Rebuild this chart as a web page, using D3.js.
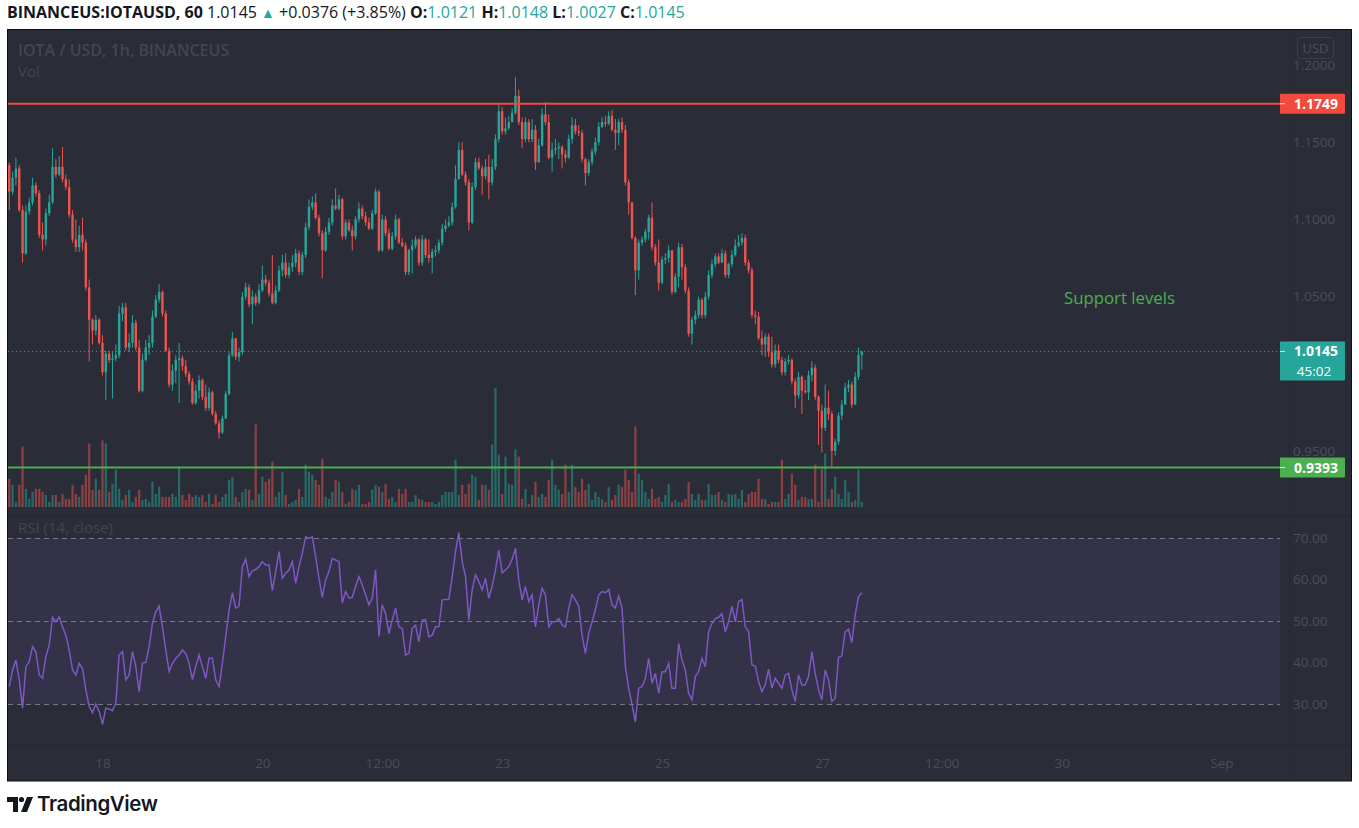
<!DOCTYPE html>
<html><head><meta charset="utf-8">
<script src="https://cdn.jsdelivr.net/npm/d3@7"></script>
<style>
body{margin:0;background:#fff;}
svg{display:block;}
text{font-family:"Open Sans",sans-serif;}
</style>
</head><body>
<svg id="c" width="1359" height="828"></svg>
<script>
// ---------------- DATA ----------------
const startTime = Date.UTC(2021, 7, 16, 20); // first hourly candle
const firstOpen = 1.135;
const closes = [
1.118,1.127,1.133,1.106,1.078,1.105,1.111,1.122,1.117,1.090,
1.087,1.104,1.111,1.134,1.129,1.134,1.126,1.121,1.103,1.087,
1.082,1.090,1.085,1.056,1.035,1.028,1.035,1.020,1.001,1.013,
1.009,1.010,1.012,1.039,1.043,1.017,1.020,1.033,1.017,0.989,
1.009,1.017,1.020,1.037,1.048,1.053,1.039,1.015,0.993,1.002,
1.009,1.010,1.005,1.000,0.995,0.981,0.989,0.996,0.985,0.978,
0.988,0.974,0.968,0.962,0.971,0.987,1.012,1.023,1.011,1.014,
1.050,1.056,1.045,1.050,1.046,1.054,1.061,1.059,1.052,1.046,
1.054,1.067,1.072,1.064,1.069,1.072,1.078,1.066,1.077,1.095,
1.108,1.111,1.101,1.091,1.080,1.092,1.098,1.109,1.107,1.113,
1.089,1.098,1.093,1.089,1.100,1.107,1.102,1.098,1.094,1.104,
1.118,1.080,1.100,1.091,1.081,1.089,1.100,1.085,1.083,1.066,
1.080,1.083,1.087,1.072,1.087,1.077,1.075,1.079,1.080,1.085,
1.094,1.096,1.098,1.108,1.126,1.145,1.129,1.124,1.098,1.121,
1.137,1.133,1.128,1.134,1.124,1.134,1.152,1.170,1.157,1.159,
1.163,1.169,1.180,1.163,1.152,1.163,1.152,1.158,1.137,1.148,
1.168,1.163,1.140,1.145,1.146,1.147,1.142,1.140,1.152,1.161,
1.157,1.156,1.139,1.130,1.137,1.144,1.150,1.160,1.163,1.162,
1.167,1.158,1.156,1.163,1.158,1.124,1.111,1.088,1.067,1.085,
1.087,1.092,1.101,1.082,1.072,1.059,1.074,1.075,1.080,1.053,
1.063,1.082,1.069,1.054,1.026,1.035,1.038,1.048,1.038,1.050,
1.064,1.071,1.076,1.072,1.078,1.064,1.071,1.077,1.083,1.085,
1.088,1.072,1.067,1.038,1.037,1.023,1.019,1.024,1.014,1.006,
1.015,1.009,1.001,1.008,1.009,0.995,0.986,0.998,0.989,0.988,
0.999,1.004,0.985,0.976,0.965,0.978,0.974,0.950,0.956,0.973,
0.980,0.991,0.993,0.980,0.998,1.0121,1.0145];
const highs = [
1.137,1.131,1.140,1.135,1.109,1.109,1.114,1.127,1.124,1.119,
1.098,1.107,1.116,1.146,1.139,1.141,1.147,1.129,1.126,1.106,
1.100,1.096,1.101,1.087,1.061,1.036,1.038,1.036,1.025,1.015,
1.015,1.014,1.019,1.044,1.046,1.046,1.026,1.038,1.035,1.022,
1.013,1.022,1.025,1.041,1.051,1.058,1.054,1.041,1.017,1.006,
1.012,1.020,1.012,1.009,1.002,0.997,0.993,0.999,0.997,0.993,
0.991,0.989,0.976,0.970,0.973,0.989,1.014,1.027,1.023,1.017,
1.053,1.059,1.058,1.054,1.052,1.058,1.070,1.064,1.061,1.077,
1.057,1.070,1.077,1.078,1.072,1.077,1.081,1.080,1.079,1.098,
1.113,1.115,1.117,1.103,1.093,1.095,1.101,1.113,1.120,1.116,
1.114,1.100,1.100,1.096,1.102,1.111,1.109,1.105,1.101,1.106,
1.120,1.119,1.103,1.102,1.094,1.092,1.103,1.101,1.088,1.085,
1.081,1.087,1.089,1.088,1.090,1.088,1.087,1.081,1.083,1.087,
1.097,1.100,1.102,1.111,1.135,1.150,1.150,1.131,1.126,1.124,
1.140,1.140,1.135,1.139,1.142,1.139,1.155,1.175,1.173,1.166,
1.167,1.172,1.192,1.184,1.166,1.166,1.165,1.165,1.161,1.152,
1.172,1.176,1.168,1.150,1.152,1.150,1.148,1.145,1.155,1.166,
1.165,1.161,1.158,1.140,1.139,1.146,1.153,1.163,1.166,1.167,
1.170,1.171,1.165,1.165,1.166,1.161,1.126,1.111,1.089,1.087,
1.089,1.094,1.103,1.111,1.084,1.087,1.076,1.078,1.083,1.080,
1.065,1.085,1.084,1.071,1.056,1.037,1.041,1.050,1.049,1.053,
1.067,1.074,1.078,1.078,1.081,1.080,1.072,1.080,1.087,1.090,
1.091,1.090,1.074,1.069,1.041,1.040,1.028,1.026,1.026,1.024,
1.019,1.019,1.011,1.010,1.012,1.010,0.997,1.001,0.999,0.996,
1.002,1.008,1.006,0.986,0.980,0.993,0.989,0.976,0.958,0.975,
0.983,0.994,0.996,0.995,1.001,1.017,1.0148];
const lows = [
1.106,1.116,1.122,1.105,1.072,1.077,1.103,1.109,1.115,1.088,
1.080,1.083,1.102,1.110,1.127,1.128,1.124,1.119,1.101,1.085,
1.079,1.079,1.080,1.054,1.008,1.019,1.025,1.019,0.999,0.983,
1.007,0.984,1.008,1.010,1.034,1.015,1.014,1.017,1.015,0.988,
0.988,1.008,1.012,1.017,1.036,1.046,1.037,1.014,0.991,0.989,
0.994,0.981,1.002,0.998,0.993,0.980,0.980,0.984,0.983,0.976,
0.976,0.973,0.967,0.958,0.961,0.971,0.986,1.011,1.009,1.008,
1.012,1.048,1.043,1.032,1.044,1.045,1.053,1.057,1.050,1.045,
1.045,1.053,1.063,1.062,1.062,1.066,1.069,1.064,1.064,1.075,
1.093,1.106,1.100,1.089,1.062,1.079,1.090,1.096,1.106,1.106,
1.087,1.087,1.092,1.080,1.087,1.098,1.100,1.096,1.093,1.093,
1.103,1.079,1.079,1.089,1.080,1.080,1.087,1.084,1.082,1.064,
1.064,1.065,1.081,1.070,1.070,1.075,1.072,1.065,1.076,1.078,
1.083,1.092,1.095,1.096,1.107,1.126,1.128,1.122,1.093,1.097,
1.119,1.132,1.116,1.126,1.113,1.122,1.132,1.150,1.155,1.155,
1.158,1.163,1.168,1.161,1.146,1.150,1.150,1.150,1.132,1.139,
1.147,1.161,1.139,1.131,1.142,1.139,1.133,1.137,1.139,1.149,
1.155,1.154,1.137,1.122,1.128,1.135,1.142,1.148,1.159,1.160,
1.161,1.157,1.145,1.148,1.156,1.122,1.103,1.087,1.051,1.061,
1.083,1.085,1.087,1.080,1.070,1.054,1.058,1.071,1.072,1.051,
1.052,1.056,1.061,1.052,1.024,1.019,1.032,1.036,1.036,1.036,
1.048,1.062,1.069,1.071,1.072,1.062,1.062,1.069,1.076,1.082,
1.083,1.070,1.065,1.036,1.032,1.022,1.012,1.011,1.011,1.004,
1.004,1.007,0.999,0.999,1.006,0.993,0.978,0.984,0.974,0.987,
0.983,0.995,0.983,0.954,0.949,0.963,0.970,0.939,0.947,0.954,
0.970,0.980,0.988,0.978,0.981,0.996,1.0027];
const volumes = [ // thousands
28,22,5,22,60,18,8,15,18,18,
15,12,5,12,12,5,13,8,8,22,
13,10,22,32,63,17,28,17,66,63,
15,23,37,18,7,12,17,5,10,17,
7,8,5,25,13,20,10,10,10,13,
10,40,12,7,13,10,12,10,12,5,
13,3,12,5,10,13,27,30,10,5,
15,18,17,7,82,13,30,25,28,45,
10,15,35,12,3,5,7,18,10,42,
35,32,27,22,48,10,8,15,27,25,
15,3,5,18,17,22,3,3,5,17,
22,20,15,23,8,10,5,18,13,18,
5,5,12,8,7,5,5,5,3,5,
12,15,15,15,47,12,22,13,23,32,
30,7,22,22,17,62,118,52,13,50,
23,22,57,50,8,18,3,12,25,10,
13,10,27,47,22,17,13,42,15,42,
20,15,28,17,23,7,15,10,8,5,
20,7,12,22,20,37,27,15,80,33,
27,15,8,18,8,10,5,12,23,5,
7,5,5,8,25,13,7,13,7,7,
23,12,12,15,7,5,13,12,13,8,
17,5,13,15,15,28,8,8,3,5,
5,5,47,8,13,33,22,7,10,10,
8,8,42,5,38,53,8,18,30,13,
8,27,15,5,7,37,5];
const rsiValues = [
34.2,38.2,40.6,35.8,29.0,39.0,40.2,43.8,42.6,37.0,
36.2,41.4,44.2,50.9,49.8,51.0,48.6,46.6,43.0,38.2,
37.0,39.8,38.6,33.4,29.4,27.9,30.0,28.2,25.1,29.0,
28.8,28.4,30.2,41.8,42.6,35.8,37.0,42.6,39.0,33.0,
39.8,40.0,43.8,49.4,52.2,53.6,48.6,43.0,37.8,39.8,
41.0,41.8,43.0,42.2,39.8,35.9,39.0,41.8,39.0,36.2,
41.0,41.0,35.8,34.2,39.8,46.2,52.7,56.8,53.1,53.6,
63.1,64.9,60.7,62.1,62.4,63.1,64.3,63.5,63.5,57.3,
61.9,66.7,60.3,61.5,62.3,64.3,59.1,63.1,66.3,70.3,
69.9,70.3,65.5,60.3,55.7,59.9,61.9,65.1,64.7,64.3,
54.3,57.1,55.5,55.7,58.3,60.7,58.7,56.3,53.9,55.5,
62.3,46.2,53.9,51.8,47.0,50.2,53.1,48.6,48.2,41.8,
42.2,48.2,49.0,45.0,50.2,50.4,46.2,46.6,48.6,48.6,
55.1,55.2,55.2,60.7,66.7,71.3,64.3,60.7,50.2,57.5,
61.1,59.5,57.5,60.3,55.5,58.3,62.3,67.1,61.6,62.3,
63.1,64.9,67.5,59.9,55.1,58.3,54.7,56.3,48.6,53.9,
57.9,56.3,48.6,49.8,49.8,50.6,49.0,48.6,53.1,56.3,
55.1,53.5,46.6,42.2,47.0,49.8,52.7,56.3,57.1,56.8,
57.6,53.9,53.1,56.0,53.1,39.0,33.8,29.8,25.7,33.8,
34.2,36.2,41.0,35.0,37.4,32.6,37.8,37.8,39.8,33.8,
33.8,44.6,40.6,38.2,32.6,31.0,36.6,37.8,41.0,39.0,
47.4,49.4,50.6,50.9,51.8,47.4,49.8,53.6,49.8,54.7,
55.2,48.6,47.4,39.4,39.2,35.4,33.0,34.6,38.4,33.8,
36.2,35.0,33.8,37.0,37.4,33.4,30.6,37.0,34.6,34.6,
36.6,42.6,37.4,33.4,31.0,38.2,35.8,30.6,31.4,41.2,
41.6,47.4,48.0,44.8,51.4,55.9,56.8];
const priceTicks = [0.95, 1.05, 1.10, 1.15, 1.20]; // 1.0000 is hidden behind the last-price label
const rsiTicks = [30, 40, 50, 60, 70];
const rsiLevels = [30, 50, 70];
const timeTicks = [Date.UTC(2021,7,18), Date.UTC(2021,7,20), Date.UTC(2021,7,21,12), Date.UTC(2021,7,23),
  Date.UTC(2021,7,25), Date.UTC(2021,7,27), Date.UTC(2021,7,28,12), Date.UTC(2021,7,30), Date.UTC(2021,8,1)];
const timeTickLabels = ["18","20","12:00","23","25","27","12:00","30","Sep"];
const resistance = 1.1749, support = 0.9393;
const lastPrice = 1.0145, countdown = "45:02";
const headerParts = [
  ["BINANCEUS:IOTAUSD, 60", "b", "#131722"], [" 1.0145 ", "n", "#131722"], ["▲", "n", "#26a69a"],
  [" +0.0376 (+3.85%) ", "n", "#131722"], ["O:", "b", "#131722"], ["1.0121", "n", "#26a69a"],
  [" H:", "b", "#131722"], ["1.0148", "n", "#26a69a"], [" L:", "b", "#131722"], ["1.0027", "n", "#26a69a"],
  [" C:", "b", "#131722"], ["1.0145", "n", "#26a69a"]];

// ---------------- SETUP ----------------
const BG = "#2a2d37", TXT = "#4a4e5a", TITLE = "#42464f", UP = "#26a69a", DOWN = "#ef5350";
const L = 8, R = 1280;
const svg = d3.select("#c");
const x = d3.scaleUtc().domain([Date.UTC(2021,7,18), Date.UTC(2021,8,1)]).range([102.5, 1221.5]);
const y = d3.scaleLinear().domain([0.95, 1.20]).range([451, 65]);
const yVol = d3.scaleLinear().domain([0, d3.max(volumes)]).range([507, 388]);
const yRsi = d3.scaleLinear().domain([30, 70]).range([704, 538]);

const candles = closes.map((c, i) => {
  const o = i === 0 ? firstOpen : closes[i - 1];
  return {t: startTime + i * 3600e3, o, c, h: Math.max(highs[i], o, c), l: Math.min(lows[i], o, c), v: volumes[i], rsi: rsiValues[i]};
});

// header
const hdr = svg.append("text").attr("x", 7).attr("y", 18).attr("font-size", 16);
headerParts.forEach(([s, w, col]) => {
  const ts = hdr.append("tspan").attr("fill", col).attr("font-weight", w === "b" ? 700 : 400).text(s);
  if (s === "▲") ts.attr("font-size", 14);
});

// frame
svg.append("rect").attr("x", 7.5).attr("y", 29.5).attr("width", 1344).attr("height", 751.5)
  .attr("fill", BG).attr("stroke", "#0e0f12").attr("stroke-width", 1);
// pane separators
svg.append("line").attr("x1", 8).attr("x2", 1351).attr("y1", 516.5).attr("y2", 516.5).attr("stroke", "#23262e");
svg.append("line").attr("x1", 8).attr("x2", 1351).attr("y1", 745.5).attr("y2", 745.5).attr("stroke", "#23262e");
svg.append("line").attr("x1", 1289.5).attr("x2", 1289.5).attr("y1", 30).attr("y2", 781).attr("stroke", "#262930");

const defs = svg.append("defs");
defs.append("clipPath").attr("id", "pp").append("rect").attr("x", L).attr("y", 30).attr("width", R - L).attr("height", 486);
defs.append("clipPath").attr("id", "rp").append("rect").attr("x", L).attr("y", 517).attr("width", R - L).attr("height", 228);

// ---------------- PRICE PANE ----------------
const pp = svg.append("g").attr("clip-path", "url(#pp)");
// volume
pp.append("g").selectAll("rect").data(candles).join("rect")
  .attr("x", d => x(d.t) - 1.1).attr("width", 2.2)
  .attr("y", d => yVol(d.v)).attr("height", d => yVol(0) - yVol(d.v))
  .attr("fill", d => d.c >= d.o ? UP : DOWN).attr("fill-opacity", 0.5);
// wicks
pp.append("g").selectAll("line").data(candles).join("line")
  .attr("x1", d => x(d.t)).attr("x2", d => x(d.t))
  .attr("y1", d => y(d.h)).attr("y2", d => y(d.l))
  .attr("stroke", d => d.c >= d.o ? UP : DOWN).attr("stroke-width", 1);
// bodies
pp.append("g").selectAll("rect").data(candles).join("rect")
  .attr("x", d => x(d.t) - 1.2).attr("width", 2.4)
  .attr("y", d => y(Math.max(d.o, d.c))).attr("height", d => Math.max(1, Math.abs(y(d.o) - y(d.c))))
  .attr("fill", d => d.c >= d.o ? UP : DOWN);
// last price dotted line
pp.append("line").attr("x1", L).attr("x2", R).attr("y1", y(lastPrice)).attr("y2", y(lastPrice))
  .attr("stroke", UP).attr("stroke-width", 1).attr("stroke-dasharray", "1,3");
// resistance & support lines
pp.append("line").attr("x1", L).attr("x2", R).attr("y1", y(resistance)).attr("y2", y(resistance))
  .attr("stroke", "#f24a3c").attr("stroke-width", 2);
pp.append("line").attr("x1", L).attr("x2", R).attr("y1", y(support)).attr("y2", y(support))
  .attr("stroke", "#4caf50").attr("stroke-width", 2);
// annotation
svg.append("text").attr("x", 1064).attr("y", 304).attr("fill", "#4caf50").attr("font-size", 16.8)
  .style("font-family", "'Open Sans',sans-serif").text("Support levels");
// pane titles
svg.append("text").attr("x", 18).attr("y", 56).attr("fill", TITLE).attr("font-size", 16).attr("font-weight", 600).text("IOTA / USD, 1h, BINANCEUS");
svg.append("text").attr("x", 18).attr("y", 77).attr("fill", TITLE).attr("font-size", 15).text("Vol");

// price axis
const pAxis = svg.append("g").attr("transform", "translate(1287,0)")
  .call(d3.axisRight(y).tickValues(priceTicks).tickFormat(d3.format(".4f")).tickSize(0).tickPadding(6));
pAxis.select(".domain").remove();
pAxis.selectAll("text").attr("fill", TXT).attr("font-size", 13.5).style("font-family", "'Open Sans',sans-serif");

// USD box
svg.append("rect").attr("x", 1297.5).attr("y", 37.5).attr("width", 36).attr("height", 21).attr("rx", 3)
  .attr("fill", BG).attr("stroke", "#3a3e48");
svg.append("text").attr("x", 1315.5).attr("y", 53).attr("text-anchor", "middle").attr("fill", TXT).attr("font-size", 13).text("USD");

// price labels
function priceLabel(val, fill, extra) {
  const cy = y(val);
  const h = extra ? 39 : 20;
  const top = cy - 10;
  svg.append("rect").attr("x", 1280).attr("y", top).attr("width", 65).attr("height", h).attr("rx", 1).attr("fill", fill);
  svg.append("line").attr("x1", 1280).attr("x2", 1285).attr("y1", cy).attr("y2", cy).attr("stroke", "#fff").attr("stroke-opacity", 0.8);
  svg.append("text").attr("x", 1316).attr("y", cy + 5).attr("text-anchor", "middle").attr("fill", "#fff")
    .attr("font-size", 14).attr("font-weight", 700).text(d3.format(".4f")(val));
  if (extra) svg.append("text").attr("x", 1314).attr("y", cy + 24.5).attr("text-anchor", "middle").attr("fill", "#fff")
    .attr("font-size", 13.5).text(extra);
}
priceLabel(resistance, "#f24a3c");
priceLabel(lastPrice, "#26a69a", countdown);
priceLabel(support, "#4caf50");

// ---------------- RSI PANE ----------------
const rp = svg.append("g").attr("clip-path", "url(#rp)");
rp.append("rect").attr("x", L).attr("width", R - L).attr("y", yRsi(70)).attr("height", yRsi(30) - yRsi(70))
  .attr("fill", "#7e57c2").attr("fill-opacity", 0.12);
rp.append("g").selectAll("line").data(rsiLevels).join("line")
  .attr("x1", L).attr("x2", R).attr("y1", d => yRsi(d) + 0.5).attr("y2", d => yRsi(d) + 0.5)
  .attr("stroke", "#8e919b").attr("stroke-opacity", 0.75).attr("stroke-dasharray", "5,4");
rp.append("path").datum(candles)
  .attr("d", d3.line().x(d => x(d.t)).y(d => yRsi(d.rsi)))
  .attr("fill", "none").attr("stroke", "#7e57c2").attr("stroke-width", 1.5);
svg.append("text").attr("x", 18).attr("y", 533).attr("fill", TITLE).attr("font-size", 15).text("RSI (14, close)");
const rAxis = svg.append("g").attr("transform", "translate(1287,0)")
  .call(d3.axisRight(yRsi).tickValues(rsiTicks).tickFormat(d3.format(".2f")).tickSize(0).tickPadding(6));
rAxis.select(".domain").remove();
rAxis.selectAll("text").attr("fill", TXT).attr("font-size", 13.5).style("font-family", "'Open Sans',sans-serif");

// ---------------- TIME AXIS ----------------
const tAxis = svg.append("g").attr("transform", "translate(0,754)")
  .call(d3.axisBottom(x).tickValues(timeTicks).tickFormat((d, i) => timeTickLabels[i]).tickSize(0).tickPadding(4));
tAxis.select(".domain").remove();
tAxis.selectAll("text").attr("fill", TXT).attr("font-size", 13.5).style("font-family", "'Open Sans',sans-serif");

// ---------------- LOGO ----------------
const logo = svg.append("g").attr("fill", "#131722");
logo.append("path").attr("d", "M7,797 H18 V812 H13 V802 H7 Z");
logo.append("circle").attr("cx", 21.5).attr("cy", 799.5).attr("r", 2.6);
logo.append("path").attr("d", "M27,797 H33 L27,812 H21 Z");
svg.append("text").attr("x", 37).attr("y", 811).attr("fill", "#131722").attr("font-size", 20.5)
  .attr("font-weight", 600).style("font-family", "Inter, sans-serif").style("letter-spacing", "-0.4px").text("TradingView");
</script>
</body></html>
